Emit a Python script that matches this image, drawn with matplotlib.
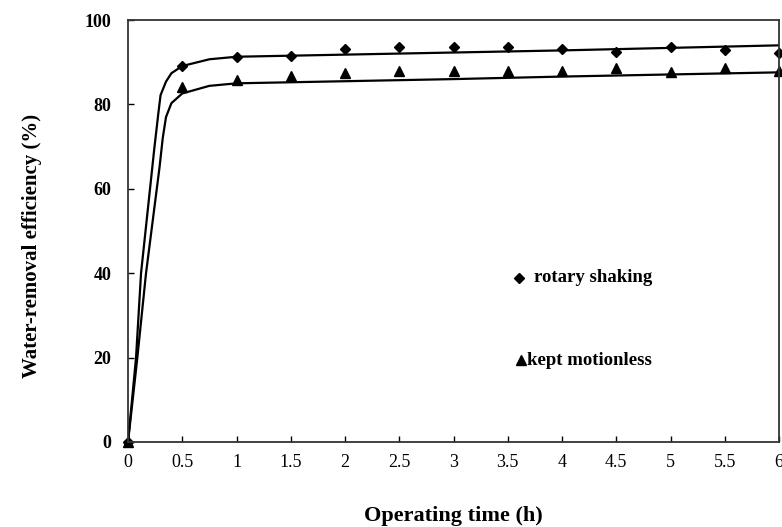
import numpy as np
import matplotlib.pyplot as plt

# measured points
time_h = [0, 0.5, 1, 1.5, 2, 2.5, 3, 3.5, 4, 4.5, 5, 5.5, 6]
rotary = [0, 89.2, 91.2, 91.4, 93.2, 93.7, 93.5, 93.7, 93.2, 92.4, 93.5, 92.9, 92.2]
motionless = [0, 84.2, 85.8, 86.8, 87.4, 88.0, 87.9, 87.9, 88.0, 88.6, 87.8, 88.6, 88.0]

# fitted curves
rotary_fit_x = [0, 0.074, 0.12, 0.24, 0.28, 0.30, 0.35, 0.40, 0.50, 0.75, 1, 2, 3, 4, 5, 6]
rotary_fit_y = [0, 20, 40, 69, 78, 82.2, 85.4, 87.4, 89.1, 90.7, 91.3, 91.8, 92.3, 92.8, 93.4, 94.0]
motionless_fit_x = [0, 0.086, 0.166, 0.29, 0.32, 0.35, 0.40, 0.50, 0.75, 1, 2, 3, 4, 5, 6]
motionless_fit_y = [0, 20, 40, 65, 72, 77, 80.3, 82.6, 84.4, 85.0, 85.5, 86.0, 86.6, 87.1, 87.6]

x_ticks = [0, 0.5, 1, 1.5, 2, 2.5, 3, 3.5, 4, 4.5, 5, 5.5, 6]
x_tick_labels = ['0', '0.5', '1', '1.5', '2', '2.5', '3', '3.5', '4', '4.5', '5', '5.5', '6']
y_ticks = [0, 20, 40, 60, 80, 100]

plt.rcParams['font.family'] = ['Liberation Serif', 'DejaVu Serif']

fig = plt.figure(figsize=(7.82, 5.27), dpi=100)
ax = fig.add_axes([0.1637, 0.1613, 0.8325, 0.8007])

ax.plot(rotary_fit_x, rotary_fit_y, color='black', lw=1.6)
ax.plot(motionless_fit_x, motionless_fit_y, color='black', lw=1.6)
ax.plot(time_h, rotary, linestyle='none', marker='D', color='black', ms=5.5, clip_on=False)
ax.plot(time_h, motionless, linestyle='none', marker='^', color='black', ms=7, clip_on=False)

# legend drawn as loose text, as in the original
ax.plot([3.6], [38.9], marker='D', color='black', ms=5)
ax.text(3.74, 38.9, 'rotary shaking', fontsize=13.5, fontweight='bold', va='center')
ax.plot([3.62], [19.4], marker='^', color='black', ms=6.5)
ax.text(3.68, 19.4, 'kept motionless', fontsize=13.5, fontweight='bold', va='center')

ax.set_xlim(0, 6)
ax.set_ylim(0, 100)
ax.set_xticks(x_ticks)
ax.set_xticklabels(x_tick_labels)
ax.set_yticks(y_ticks)
ax.tick_params(direction='in', length=4, width=1, labelsize=13)
ax.tick_params(axis='x', pad=9)
ax.tick_params(axis='y', pad=12)
for lbl in ax.get_yticklabels():
    lbl.set_fontweight('bold')
for sp in ax.spines.values():
    sp.set_linewidth(1.3)
    sp.set_color('#333333')

ax.set_xlabel('Operating time (h)', fontsize=16, fontweight='bold', labelpad=25)
ax.set_ylabel('Water-removal efficiency (%)', fontsize=15, fontweight='bold')
ax.yaxis.set_label_coords(-0.132, 0.465)

fig.savefig('out.png', dpi=100)
